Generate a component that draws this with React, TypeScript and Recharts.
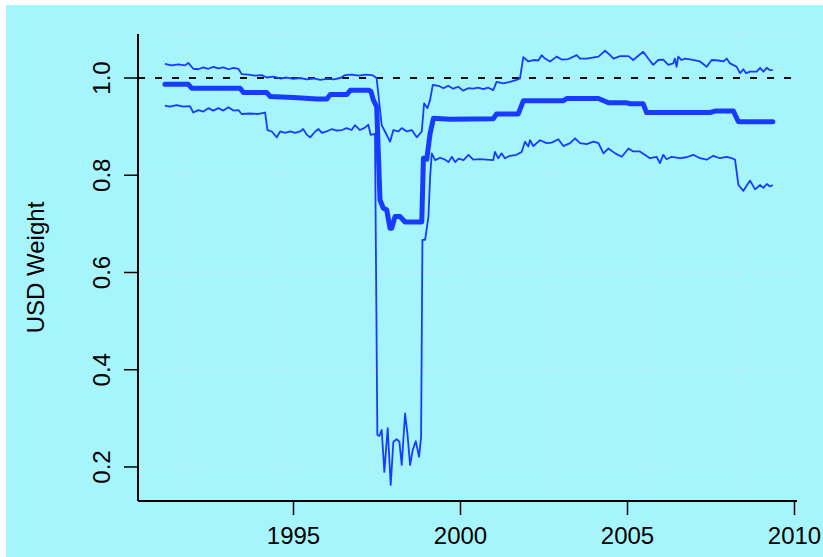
import React from 'react';
import { LineChart, Line, XAxis, YAxis, CartesianGrid, ReferenceLine } from 'recharts';

// ---- data ----
const upperYears = [1991.15, 1991.35, 1991.55, 1991.75, 1991.85, 1992.0, 1992.15, 1992.3, 1992.45, 1992.6, 1992.75, 1992.9, 1993.05, 1993.2, 1993.35, 1993.45, 1993.65, 1993.85, 1994.05, 1994.2, 1994.4, 1994.6, 1994.8, 1995.0, 1995.2, 1995.4, 1995.6, 1995.8, 1996.0, 1996.2, 1996.4, 1996.55, 1996.75, 1996.95, 1997.15, 1997.35, 1997.45, 1997.49, 1997.64, 1997.74, 1997.89, 1997.99, 1998.14, 1998.24, 1998.39, 1998.54, 1998.69, 1998.84, 1998.91, 1999.01, 1999.09, 1999.17, 1999.34, 1999.49, 1999.63, 1999.78, 1999.93, 2000.08, 2000.23, 2000.38, 2000.53, 2000.68, 2000.83, 2000.98, 2001.08, 2001.28, 2001.48, 2001.68, 2001.78, 2001.88, 2002.03, 2002.18, 2002.33, 2002.43, 2002.53, 2002.68, 2002.88, 2003.03, 2003.23, 2003.48, 2003.58, 2003.78, 2004.13, 2004.33, 2004.48, 2004.58, 2004.78, 2005.03, 2005.17, 2005.47, 2005.62, 2005.77, 2005.92, 2006.07, 2006.22, 2006.37, 2006.42, 2006.47, 2006.52, 2006.62, 2006.72, 2006.92, 2007.17, 2007.37, 2007.52, 2007.72, 2007.87, 2007.97, 2008.07, 2008.27, 2008.37, 2008.47, 2008.55, 2008.67, 2008.87, 2008.97, 2009.07, 2009.17, 2009.27, 2009.35];
const upperValues = [1.029, 1.026, 1.028, 1.026, 1.031, 1.019, 1.018, 1.022, 1.019, 1.023, 1.02, 1.022, 1.018, 1.021, 1.019, 1.008, 1.007, 1.005, 1.006, 1.001, 1.003, 0.999, 1.001, 0.998, 1.0, 0.997, 0.999, 0.996, 0.998, 0.997, 1.0, 1.006, 1.007, 1.005, 1.007, 1.006, 1.002, 0.999, 0.903, 0.89, 0.869, 0.893, 0.89, 0.897, 0.89, 0.893, 0.878, 0.89, 0.948, 0.938, 0.955, 0.986, 0.984, 0.979, 0.984, 0.978, 0.982, 0.974, 0.979, 0.978, 0.98, 0.977, 0.98, 0.975, 0.992, 0.989, 0.992, 0.996, 0.999, 1.043, 1.034, 1.037, 1.036, 1.047, 1.04, 1.034, 1.044, 1.038, 1.039, 1.047, 1.04, 1.04, 1.044, 1.056, 1.047, 1.04, 1.045, 1.045, 1.037, 1.054, 1.04, 1.027, 1.037, 1.038, 1.027, 1.03, 1.04, 1.023, 1.044, 1.037, 1.04, 1.038, 1.034, 1.023, 1.037, 1.036, 1.034, 1.04, 1.03, 1.023, 1.01, 1.018, 1.01, 1.013, 1.013, 1.021, 1.013, 1.021, 1.016, 1.016];

const meanYears = [1991.15, 1991.85, 1991.95, 1993.4, 1993.5, 1994.2, 1994.3, 1995.0, 1995.7, 1996.0, 1996.1, 1996.6, 1996.7, 1997.25, 1997.32, 1997.39, 1997.49, 1997.59, 1997.69, 1997.79, 1997.89, 1997.94, 1998.04, 1998.19, 1998.34, 1998.84, 1998.89, 1998.99, 1999.09, 1999.19, 1999.69, 2000.98, 2001.08, 2001.73, 2001.88, 2003.08, 2003.18, 2004.13, 2004.43, 2004.98, 2005.08, 2005.47, 2005.57, 2007.47, 2007.62, 2008.17, 2008.32, 2009.35];
const meanValues = [0.987, 0.987, 0.979, 0.979, 0.97, 0.97, 0.962, 0.96, 0.957, 0.957, 0.966, 0.966, 0.975, 0.975, 0.972, 0.955, 0.941, 0.749, 0.732, 0.729, 0.691, 0.691, 0.715, 0.715, 0.704, 0.704, 0.835, 0.833, 0.886, 0.917, 0.915, 0.916, 0.926, 0.926, 0.953, 0.953, 0.958, 0.958, 0.949, 0.949, 0.947, 0.947, 0.929, 0.929, 0.932, 0.932, 0.91, 0.91];

const lowerYears = [1991.15, 1991.3, 1991.5, 1991.7, 1991.9, 1992.0, 1992.15, 1992.3, 1992.45, 1992.6, 1992.75, 1992.9, 1993.05, 1993.2, 1993.35, 1993.45, 1993.7, 1993.95, 1994.15, 1994.22, 1994.35, 1994.5, 1994.6, 1994.75, 1994.9, 1995.05, 1995.2, 1995.29, 1995.4, 1995.5, 1995.65, 1995.75, 1995.85, 1995.99, 1996.15, 1996.3, 1996.45, 1996.59, 1996.74, 1996.84, 1996.99, 1997.14, 1997.24, 1997.31, 1997.44, 1997.51, 1997.57, 1997.64, 1997.72, 1997.82, 1997.91, 1997.99, 1998.09, 1998.17, 1998.24, 1998.34, 1998.41, 1998.49, 1998.57, 1998.66, 1998.76, 1998.82, 1998.86, 1998.94, 1999.04, 1999.09, 1999.14, 1999.24, 1999.39, 1999.54, 1999.64, 1999.74, 1999.84, 1999.94, 2000.09, 2000.24, 2000.38, 2000.58, 2000.78, 2000.98, 2001.03, 2001.13, 2001.23, 2001.33, 2001.48, 2001.68, 2001.83, 2001.93, 2002.03, 2002.08, 2002.18, 2002.38, 2002.58, 2002.73, 2002.93, 2003.08, 2003.28, 2003.43, 2003.58, 2003.78, 2003.98, 2004.13, 2004.28, 2004.43, 2004.63, 2004.83, 2005.03, 2005.17, 2005.37, 2005.52, 2005.67, 2005.87, 2005.97, 2006.07, 2006.17, 2006.32, 2006.57, 2006.77, 2006.97, 2007.17, 2007.37, 2007.57, 2007.77, 2007.97, 2008.12, 2008.22, 2008.32, 2008.47, 2008.67, 2008.82, 2008.97, 2009.07, 2009.17, 2009.27, 2009.35];
const lowerValues = [0.943, 0.941, 0.944, 0.941, 0.942, 0.929, 0.934, 0.931, 0.938, 0.933, 0.938, 0.933, 0.94, 0.933, 0.934, 0.926, 0.927, 0.926, 0.929, 0.893, 0.89, 0.878, 0.89, 0.887, 0.89, 0.887, 0.89, 0.895, 0.883, 0.878, 0.89, 0.895, 0.887, 0.89, 0.895, 0.892, 0.893, 0.897, 0.893, 0.903, 0.893, 0.898, 0.904, 0.883, 0.885, 0.266, 0.264, 0.276, 0.19, 0.28, 0.163, 0.252, 0.257, 0.252, 0.204, 0.31, 0.269, 0.204, 0.235, 0.253, 0.221, 0.262, 0.667, 0.667, 0.715, 0.797, 0.845, 0.831, 0.836, 0.832, 0.827, 0.838, 0.827, 0.834, 0.831, 0.842, 0.832, 0.833, 0.832, 0.831, 0.848, 0.835, 0.845, 0.835, 0.84, 0.842, 0.848, 0.869, 0.859, 0.872, 0.86, 0.872, 0.866, 0.867, 0.874, 0.86, 0.866, 0.876, 0.866, 0.864, 0.869, 0.866, 0.845, 0.855, 0.845, 0.838, 0.855, 0.849, 0.849, 0.842, 0.835, 0.838, 0.825, 0.842, 0.833, 0.838, 0.835, 0.837, 0.842, 0.835, 0.832, 0.84, 0.835, 0.838, 0.835, 0.832, 0.78, 0.768, 0.789, 0.771, 0.78, 0.774, 0.782, 0.777, 0.78];

const xTicks = [1995, 2000, 2005, 2010];
const yTicks = [0.2, 0.4, 0.6, 0.8, 1.0];
const gridYears = [1991.9, 1994.65, 1997.38, 2000.11, 2002.85, 2005.58, 2008.33];
const referenceValue = 1.0;
const yLabel = 'USD Weight';

const zip = (ts: number[], vs: number[]) => ts.map((t, i) => ({ t, v: vs[i] }));
const upperData = zip(upperYears, upperValues);
const meanData = zip(meanYears, meanValues);
const lowerData = zip(lowerYears, lowerValues);

const FONT = '"Liberation Sans", Arial, Helvetica, sans-serif';
const BLUE = '#173cff';

const XTick = (props: any) => {
  const { x, y, payload } = props;
  return (
    <text x={x} y={y} dy={27} textAnchor="middle" fontSize={24} fontFamily={FONT} fill="#000">
      {payload.value}
    </text>
  );
};

const YTick = (props: any) => {
  const { x, y, payload } = props;
  const bx = x - 12;
  return (
    <text x={bx} y={y} transform={`rotate(-90 ${bx} ${y})`} textAnchor="middle" fontSize={24} fontFamily={FONT} fill="#000">
      {Number(payload.value).toFixed(1)}
    </text>
  );
};

const renderYLabel = (props: any) => {
  const vb = props.viewBox || { x: 0, y: 34, width: 138, height: 467 };
  const cx = 44;
  const cy = vb.y + vb.height / 2;
  return (
    <text x={cx} y={cy} transform={`rotate(-90 ${cx} ${cy})`} textAnchor="middle" fontSize={24} fontFamily={FONT} fill="#000">
      {yLabel}
    </text>
  );
};

export default function App() {
  return (
    <div style={{ position: 'absolute', left: 0, top: 0, width: 823, height: 557, background: '#ffffff', overflow: 'hidden' }}>
      <div style={{ position: 'absolute', left: 6, top: 5, width: 817, height: 552, background: '#a6f4fc' }} />
      <div style={{ position: 'absolute', left: 0, top: 0 }}>
        <LineChart width={823} height={557} margin={{ top: 34, right: 26, bottom: 0, left: 0 }}>
          <CartesianGrid vertical={false} stroke="#cde4ec" strokeWidth={1.5} strokeDasharray="2 6" />
          {gridYears.map((g) => (
            <ReferenceLine key={g} x={g} stroke="#cde4ec" strokeWidth={1.5} strokeDasharray="2 6" />
          ))}
          <XAxis
            dataKey="t"
            type="number"
            domain={[1990.344, 2010.075]}
            ticks={xTicks}
            allowDataOverflow
            height={56}
            tickSize={14}
            axisLine={{ stroke: '#000', strokeWidth: 2 }}
            tickLine={{ stroke: '#000', strokeWidth: 1.5 }}
            tick={<XTick />}
            interval={0}
          />
          <YAxis
            type="number"
            domain={[0.13, 1.0905]}
            ticks={yTicks}
            allowDataOverflow
            width={138}
            tickSize={14}
            axisLine={{ stroke: '#000', strokeWidth: 2 }}
            tickLine={{ stroke: '#000', strokeWidth: 1.5 }}
            tick={<YTick />}
            interval={0}
            label={renderYLabel}
          />
          <ReferenceLine y={referenceValue} stroke="#111" strokeWidth={2} strokeDasharray="7 10" />
          <Line data={upperData} dataKey="v" type="linear" stroke={BLUE} strokeWidth={1.8} dot={false} isAnimationActive={false} strokeLinejoin="round" />
          <Line data={lowerData} dataKey="v" type="linear" stroke={BLUE} strokeWidth={1.8} dot={false} isAnimationActive={false} strokeLinejoin="round" />
          <Line data={meanData} dataKey="v" type="linear" stroke={BLUE} strokeWidth={5} dot={false} isAnimationActive={false} strokeLinejoin="round" strokeLinecap="round" />
        </LineChart>
      </div>
    </div>
  );
}
